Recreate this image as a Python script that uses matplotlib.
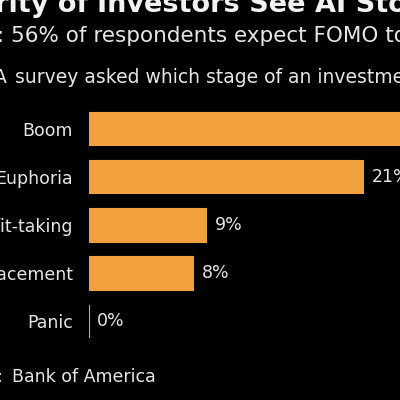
import matplotlib
matplotlib.use("Agg")
import matplotlib.pyplot as plt

# data (Boom runs past the crop)
stages = ["Boom", "Euphoria", "Profit-taking", "Retracement", "Panic"]
shares = [62, 21, 9, 8, 0]
value_labels = ["62%", "21%", "9%", "8%", "0%"]

title_head = "Majority of"
title_tail = "Investors See AI Stocks in a Bubble"
subtitle_head = "About"
subtitle_tail = "56% of respondents expect FOMO to drive more gains"
note_head = "A"
note_tail = "survey asked which stage of an investment cycle AI stocks are in"
source_head = "Source:"
source_tail = "Bank of America"

BG = "#000000"
BAR = "#f0a03c"
FG = "#e6e6e6"

W = H = 400


def px(x, y):
    return x / W, 1 - y / H


fig = plt.figure(figsize=(4, 4), dpi=100, facecolor=BG)
ax = fig.add_axes([89 / W, 1 - 350 / H, (W - 89) / W, 245 / H])
ax.set_facecolor(BG)

ypos = list(range(len(stages)))
ax.barh(ypos, shares, height=0.68, color=BAR, edgecolor=BAR, linewidth=1.5)
ax.set_xlim(0, (W - 89) / 13.05)
ax.set_ylim(4.595, -0.5)

for y, v, lab in zip(ypos, shares, value_labels):
    ax.annotate(lab, (v, y), xytext=(6, 0), textcoords="offset points",
                va="center", ha="left", color=FG, fontsize=12.5,
                annotation_clip=False)

ax.set_yticks(ypos)
ax.set_yticklabels(stages, color=FG, fontsize=12.5)
ax.tick_params(axis="y", length=0, pad=11.5)
ax.set_xticks([])
for s in ax.spines.values():
    s.set_visible(False)

# header lines, cropped at the edges like the reference
fig.text(*px(97, 12), title_tail, color="#f2f2f2",
         fontsize=19.5, fontweight="bold", ha="left", va="baseline")
fig.text(*px(88, 12), title_head, color="#f2f2f2",
         fontsize=19.5, fontweight="bold", ha="right", va="baseline")
fig.text(*px(11, 42), subtitle_tail, color=FG, fontsize=15.5,
         ha="left", va="baseline")
fig.text(*px(5, 42), subtitle_head + ":", color=FG, fontsize=15.5,
         ha="right", va="baseline")
fig.text(*px(15, 83), note_tail, color=FG, fontsize=13.5,
         ha="left", va="baseline")
fig.text(*px(7, 83), note_head, color=FG, fontsize=13.5,
         ha="right", va="baseline")
fig.text(*px(12, 382), source_tail, color=FG, fontsize=12.5,
         ha="left", va="baseline")
fig.text(*px(4, 382), source_head, color=FG, fontsize=12.5,
         ha="right", va="baseline")

fig.savefig("out.png", dpi=100, facecolor=BG)
